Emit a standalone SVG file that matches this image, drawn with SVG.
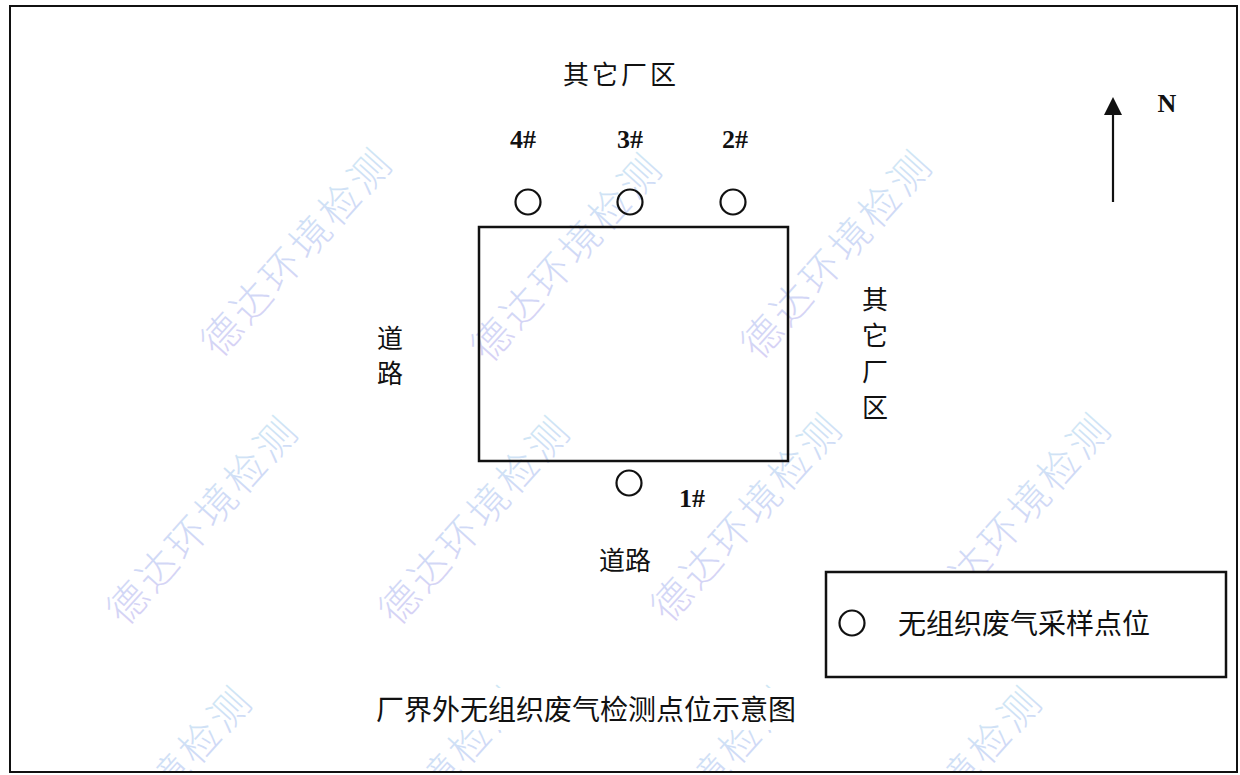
<svg xmlns="http://www.w3.org/2000/svg" width="1240" height="775" viewBox="0 0 1240 775">
<style>
.cjk{font-family:"Noto Sans CJK SC","Noto Sans",sans-serif;fill:#111;}
.num{font-family:"Liberation Serif","Times New Roman",serif;font-weight:bold;fill:#111;}
.wm{font-family:"Noto Sans CJK SC",sans-serif;font-size:40px;font-weight:300;letter-spacing:4px;fill:url(#wmg);opacity:0.32;text-anchor:middle;dominant-baseline:central;}
.pt{fill:none;stroke:#111;stroke-width:2.2;}
.box{fill:none;stroke:#111;stroke-width:2.5;}
</style>
<defs>
<linearGradient id="wmg" x1="0" y1="1" x2="1" y2="0">
<stop offset="0" stop-color="#8a6ce0"/>
<stop offset="0.5" stop-color="#6f8fe6"/>
<stop offset="1" stop-color="#6fc8e0"/>
</linearGradient>
<clipPath id="pageclip"><rect x="10" y="6" width="1227" height="766"/></clipPath>
</defs>
<rect x="0" y="0" width="1240" height="775" fill="#fff"/>
<g id="watermarks" clip-path="url(#pageclip)">
<text class="wm" transform="translate(295,250) rotate(-48)">德达环境检测</text>
<text class="wm" transform="translate(565,255) rotate(-48)">德达环境检测</text>
<text class="wm" transform="translate(835,252) rotate(-48)">德达环境检测</text>
<text class="wm" transform="translate(201,518) rotate(-48)">德达环境检测</text>
<text class="wm" transform="translate(473,518) rotate(-48)">德达环境检测</text>
<text class="wm" transform="translate(745,515) rotate(-48)">德达环境检测</text>
<text class="wm" transform="translate(1014,515) rotate(-48)">德达环境检测</text>
<text class="wm" transform="translate(155,788) rotate(-48)">德达环境检测</text>
<text class="wm" transform="translate(425,788) rotate(-48)">德达环境检测</text>
<text class="wm" transform="translate(695,788) rotate(-48)">德达环境检测</text>
<text class="wm" transform="translate(945,788) rotate(-48)">德达环境检测</text>
</g>
<rect id="frame" x="10" y="6" width="1227" height="766" fill="none" stroke="#111" stroke-width="2"/>
<g id="site">
<rect class="box" x="479" y="227" width="309" height="234"/>
</g>
<g id="pt4"><circle class="pt" cx="528" cy="202" r="12.5"/><text class="num" x="523" y="148" font-size="26" text-anchor="middle">4#</text></g>
<g id="pt3"><circle class="pt" cx="630" cy="202" r="12.5"/><text class="num" x="630" y="148" font-size="26" text-anchor="middle">3#</text></g>
<g id="pt2"><circle class="pt" cx="733" cy="202" r="12.5"/><text class="num" x="735" y="148" font-size="26" text-anchor="middle">2#</text></g>
<g id="pt1"><circle class="pt" cx="629" cy="483" r="12.5"/><text class="num" x="692" y="507" font-size="26" text-anchor="middle">1#</text></g>
<g id="north-label"><text class="cjk" x="621" y="84" font-size="26" letter-spacing="3" text-anchor="middle">其它厂区</text></g>
<g id="west-label" font-size="26" text-anchor="middle">
<text class="cjk" x="390" y="348">道</text>
<text class="cjk" x="390" y="383">路</text>
</g>
<g id="east-label" font-size="26" text-anchor="middle">
<text class="cjk" x="875" y="309">其</text>
<text class="cjk" x="875" y="345">它</text>
<text class="cjk" x="875" y="381">厂</text>
<text class="cjk" x="875" y="417">区</text>
</g>
<g id="south-label"><text class="cjk" x="625" y="570" font-size="26" text-anchor="middle">道路</text></g>
<g id="north-arrow">
<line x1="1113" y1="202" x2="1113" y2="112" stroke="#111" stroke-width="2.2"/>
<polygon points="1113,97 1104,115 1122,115" fill="#111"/>
<text class="num" x="1167" y="112" font-size="26" text-anchor="middle">N</text>
</g>
<g id="legend">
<rect x="826" y="572" width="400" height="105" fill="#fff" stroke="#111" stroke-width="2.5"/>
<circle class="pt" cx="852" cy="623" r="12.5"/>
<text class="cjk" x="898" y="634" font-size="28">无组织废气采样点位</text>
</g>
<g id="title">
<rect x="370" y="688" width="436" height="42" fill="#fff"/>
<text class="cjk" x="586" y="720" font-size="28" text-anchor="middle">厂界外无组织废气检测点位示意图</text>
</g>
</svg>
